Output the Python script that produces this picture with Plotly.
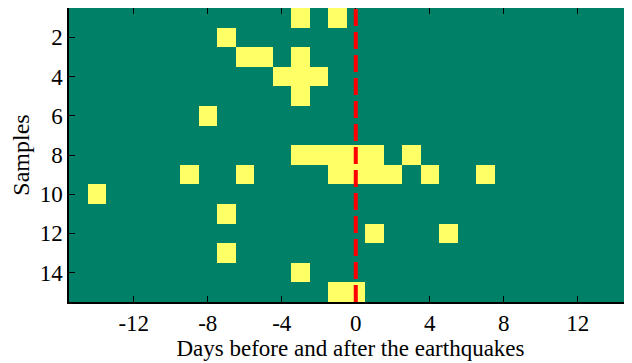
import plotly.graph_objects as go

days = list(range(-15, 16))
samples = list(range(1, 16))
# days with an anomaly for each sample (row 1..15)
anomaly_days = [
    [-3, -1],
    [-7],
    [-6, -5, -3],
    [-4, -3, -2],
    [-3],
    [-8],
    [],
    [-3, -2, -1, 0, 1, 3],
    [-9, -6, -1, 0, 1, 2, 4, 7],
    [-14],
    [-7],
    [1, 5],
    [-7],
    [-3],
    [-1, 0],
]
x_ticks = [-12, -8, -4, 0, 4, 8, 12]
y_ticks = [2, 4, 6, 8, 10, 12, 14]

z = [[1 if d in row else 0 for d in days] for row in anomaly_days]

fig = go.Figure(go.Heatmap(
    x=days, y=samples, z=z,
    colorscale=[[0, "#008066"], [1, "#ffff66"]],
    zmin=0, zmax=1, showscale=False, hoverinfo="skip",
))

fig.add_shape(type="line", xref="x", yref="paper", x0=0, x1=0, y0=0, y1=1.008,
              line=dict(color="#ff0000", width=4, dash="17px,6px"), layer="above")

FAMILY = "Liberation Serif"
def f(size):
    return dict(family=FAMILY, size=size, color="black")

axis_common = dict(showline=True, linecolor="black", linewidth=1.5, mirror="ticks",
                   ticks="inside", ticklen=6, tickwidth=1.2, tickcolor="black",
                   showgrid=False, zeroline=False, automargin=False,
                   tickfont=f(23))

fig.update_layout(
    width=624, height=355,
    margin=dict(l=61, r=0, t=0, b=61, autoexpand=False),
    paper_bgcolor="white", plot_bgcolor="white",
    font=f(23),
    xaxis=dict(range=[-15.5, 14.93], tickvals=x_ticks, ticktext=[str(v) for v in x_ticks],
               title=dict(text="Days before and after the earthquakes", font=f(23), standoff=2),
               **axis_common),
    yaxis=dict(range=[15.5, 0.5], tickvals=y_ticks, ticktext=[str(v) for v in y_ticks],
               title=dict(text="Samples", font=f(24), standoff=4),
               **axis_common),
)

fig.write_html("out.html")
